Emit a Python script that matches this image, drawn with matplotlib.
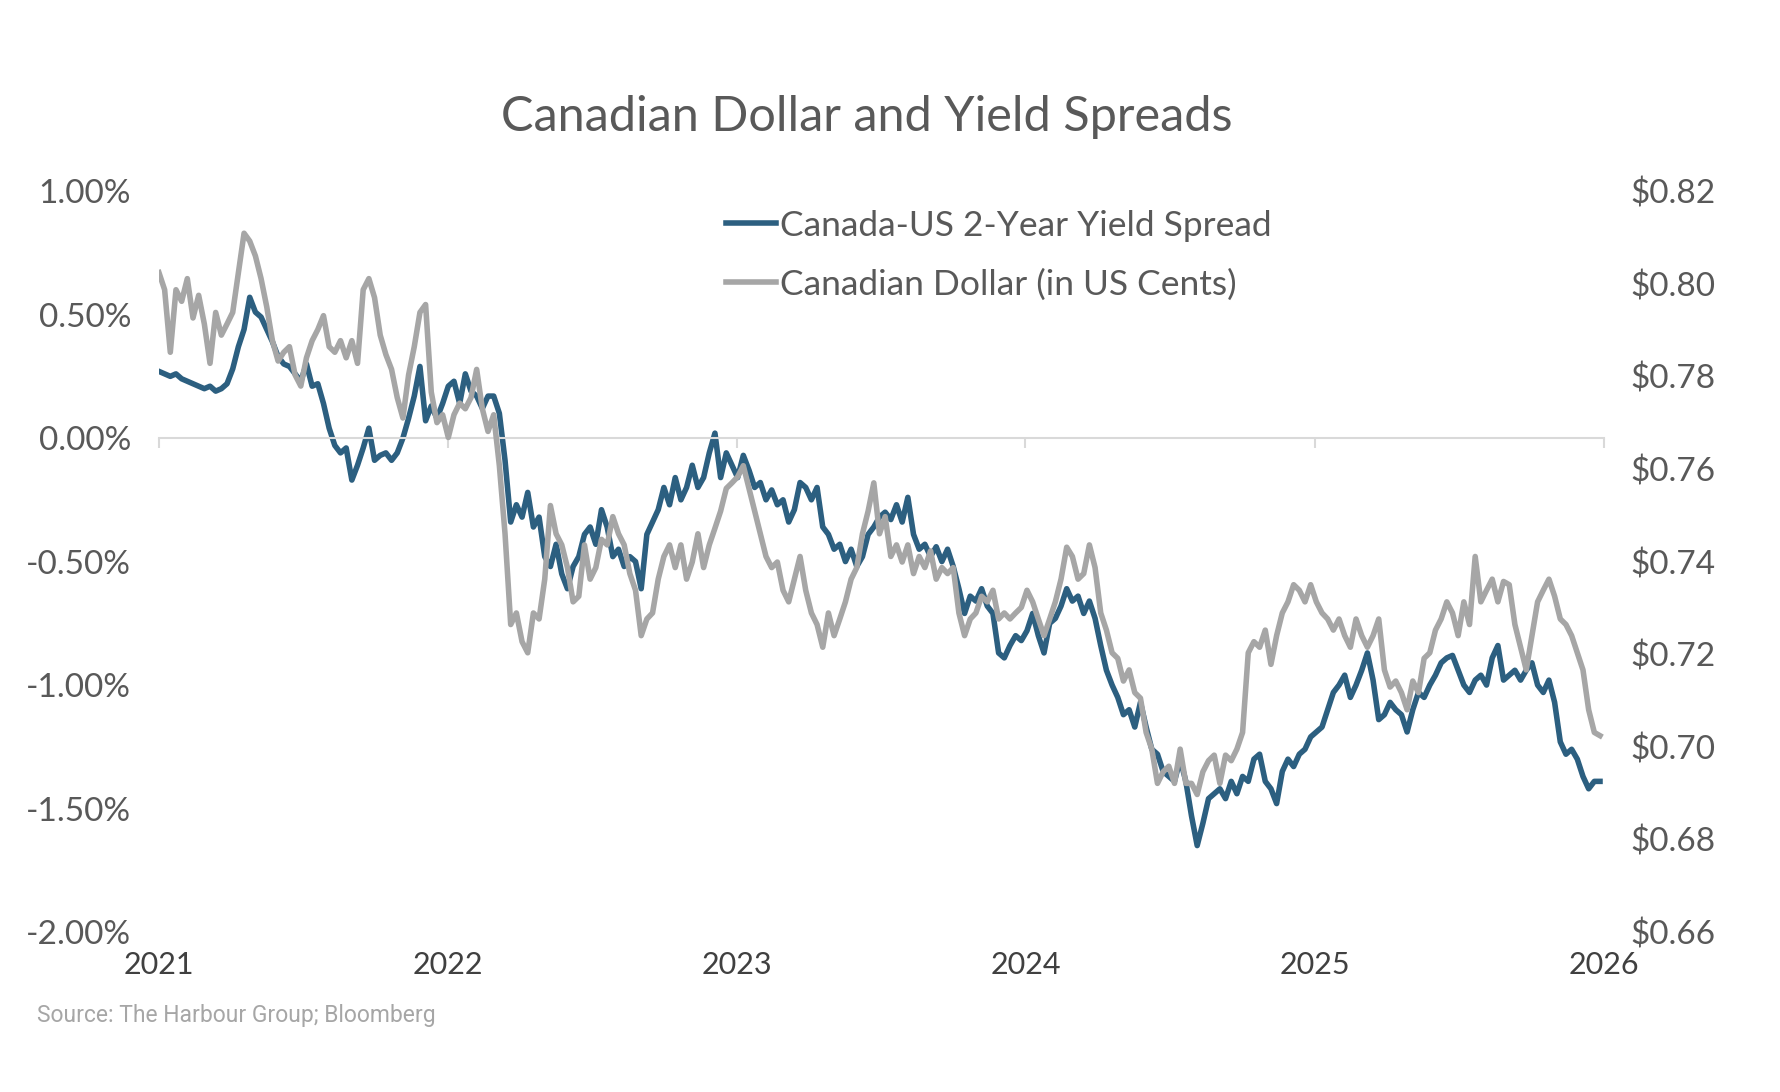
import pandas as pd
import matplotlib.pyplot as plt
from matplotlib.ticker import FuncFormatter, MultipleLocator


# Canada-US 2-year yield spread (%), roughly weekly readings
spread = [
    0.27, 0.26, 0.25, 0.26, 0.24, 0.23, 0.22, 0.21, 0.20, 0.21, 0.19, 0.20, 0.22, 0.28, 0.37, 0.44,
    0.57, 0.51, 0.49, 0.44, 0.39, 0.33, 0.30, 0.29, 0.26, 0.23, 0.30, 0.21, 0.22, 0.14, 0.04, -0.03,
    -0.06, -0.04, -0.17, -0.11, -0.04, 0.04, -0.09, -0.07, -0.06, -0.09, -0.06, 0.00, 0.08, 0.17, 0.29, 0.07,
    0.13, 0.08, 0.14, 0.21,
    # 2022
    0.23, 0.14, 0.26, 0.19, 0.17, 0.12, 0.17, 0.17, 0.10, -0.09, -0.34, -0.27, -0.32, -0.22, -0.36, -0.32,
    -0.48, -0.52, -0.43, -0.55, -0.61, -0.52, -0.48, -0.39, -0.36, -0.43, -0.29, -0.36, -0.48, -0.45, -0.52, -0.48,
    -0.50, -0.61, -0.39, -0.34, -0.29, -0.20, -0.27, -0.16, -0.25, -0.20, -0.11, -0.20, -0.16, -0.06, 0.02, -0.16,
    -0.06, -0.11, -0.16,
    # 2023
    -0.07, -0.13, -0.20, -0.18, -0.25, -0.21, -0.27, -0.25, -0.34, -0.29, -0.18, -0.20, -0.25, -0.20, -0.36, -0.39,
    -0.45, -0.43, -0.50, -0.45, -0.52, -0.48, -0.39, -0.36, -0.32, -0.30, -0.33, -0.27, -0.34, -0.24, -0.39, -0.45,
    -0.43, -0.48, -0.44, -0.50, -0.45, -0.52, -0.61, -0.71, -0.64, -0.66, -0.61, -0.68, -0.71, -0.87, -0.89, -0.84,
    -0.80, -0.82, -0.78,
    # 2024
    -0.71, -0.80, -0.87, -0.75, -0.73, -0.68, -0.61, -0.66, -0.64, -0.71, -0.66, -0.73, -0.84, -0.94, -1.00, -1.05,
    -1.12, -1.10, -1.17, -1.07, -1.17, -1.26, -1.28, -1.35, -1.37, -1.39, -1.30, -1.39, -1.53, -1.65, -1.56, -1.46,
    -1.44, -1.42, -1.46, -1.39, -1.44, -1.37, -1.39, -1.30, -1.28, -1.39, -1.42, -1.48, -1.35, -1.30, -1.33, -1.28,
    -1.26, -1.21, -1.19,
    # 2025
    -1.17, -1.10, -1.03, -1.00, -0.96, -1.05, -1.00, -0.94, -0.87, -0.98, -1.14, -1.12, -1.07, -1.10, -1.12, -1.19,
    -1.10, -1.03, -1.05, -1.00, -0.96, -0.91, -0.89, -0.88, -0.94, -1.00, -1.03, -0.98, -0.96, -1.00, -0.89, -0.84,
    -0.98, -0.96, -0.94, -0.98, -0.94, -0.91, -1.00, -1.03, -0.98, -1.07, -1.23, -1.28, -1.26, -1.30, -1.37, -1.42,
    -1.39, -1.39,
]

# Canadian dollar in US$, same dates
cad = [
    0.8024, 0.7987, 0.7852, 0.7987, 0.7962, 0.8011, 0.7926, 0.7975, 0.7913, 0.7828, 0.7938, 0.7889, 0.7913, 0.7938,
    0.8024, 0.8109, 0.8092, 0.8060, 0.8011, 0.7950, 0.7877, 0.7833, 0.7852, 0.7864, 0.7803, 0.7779, 0.7840, 0.7877,
    0.7901, 0.7931, 0.7864, 0.7852, 0.7877, 0.7840, 0.7877, 0.7828, 0.7987, 0.8011, 0.7970, 0.7889, 0.7847, 0.7815,
    0.7754, 0.7710, 0.7803, 0.7864, 0.7938, 0.7955, 0.7766, 0.7700, 0.7717, 0.7668,
    # 2022
    0.7717, 0.7742, 0.7730, 0.7754, 0.7815, 0.7730, 0.7681, 0.7717, 0.7607, 0.7460, 0.7264, 0.7289, 0.7227, 0.7203,
    0.7289, 0.7276, 0.7362, 0.7521, 0.7460, 0.7436, 0.7387, 0.7313, 0.7325, 0.7436, 0.7362, 0.7387, 0.7448, 0.7436,
    0.7497, 0.7460, 0.7436, 0.7374, 0.7338, 0.7240, 0.7276, 0.7289, 0.7362, 0.7411, 0.7436, 0.7387, 0.7436, 0.7362,
    0.7399, 0.7460, 0.7387, 0.7436, 0.7472, 0.7509, 0.7558, 0.7570, 0.7583,
    # 2023
    0.7607, 0.7558, 0.7509, 0.7460, 0.7411, 0.7387, 0.7399, 0.7338, 0.7313, 0.7362, 0.7411, 0.7338, 0.7289, 0.7264,
    0.7215, 0.7289, 0.7240, 0.7276, 0.7313, 0.7362, 0.7387, 0.7460, 0.7509, 0.7570, 0.7460, 0.7497, 0.7411, 0.7436,
    0.7399, 0.7436, 0.7374, 0.7411, 0.7387, 0.7423, 0.7362, 0.7387, 0.7374, 0.7387, 0.7289, 0.7240, 0.7276, 0.7289,
    0.7325, 0.7313, 0.7338, 0.7276, 0.7289, 0.7276, 0.7289, 0.7301, 0.7338,
    # 2024
    0.7313, 0.7276, 0.7240, 0.7276, 0.7313, 0.7362, 0.7431, 0.7411, 0.7362, 0.7374, 0.7436, 0.7387, 0.7289, 0.7252,
    0.7203, 0.7191, 0.7142, 0.7166, 0.7117, 0.7105, 0.7031, 0.6995, 0.6921, 0.6946, 0.6958, 0.6921, 0.6995, 0.6921,
    0.6921, 0.6897, 0.6946, 0.6970, 0.6982, 0.6921, 0.6982, 0.6970, 0.6995, 0.7031, 0.7203, 0.7227, 0.7215, 0.7252,
    0.7178, 0.7240, 0.7289, 0.7313, 0.7350, 0.7338, 0.7313, 0.7350, 0.7313,
    # 2025
    0.7289, 0.7276, 0.7252, 0.7276, 0.7240, 0.7215, 0.7276, 0.7240, 0.7215, 0.7240, 0.7276, 0.7166, 0.7129, 0.7142,
    0.7117, 0.7080, 0.7142, 0.7117, 0.7191, 0.7203, 0.7252, 0.7276, 0.7313, 0.7289, 0.7240, 0.7313, 0.7264, 0.7411,
    0.7313, 0.7338, 0.7362, 0.7313, 0.7357, 0.7350, 0.7264, 0.7215, 0.7166, 0.7240, 0.7313, 0.7338, 0.7362, 0.7325,
    0.7276, 0.7264, 0.7240, 0.7203, 0.7166, 0.7080, 0.7031, 0.7024,
]

start_date = "2021-01-01"
end_date = "2025-12-27"
year_ticks = ["2021", "2022", "2023", "2024", "2025", "2026"]

spread_dates = pd.date_range(start_date, end_date, periods=len(spread))
cad_dates = pd.date_range(start_date, end_date, periods=len(cad))

BLUE = "#2c5f80"
GREY = "#a6a6a6"
TEXT = "#595959"

plt.rcParams["font.family"] = ["Lato", "DejaVu Sans"]
plt.rcParams["axes.unicode_minus"] = False

fig = plt.figure(figsize=(17.8, 10.92), dpi=100)
ax = fig.add_axes([0.0893, 0.1465, 0.8118, 0.6785])
ax2 = ax.twinx()

ax.plot(spread_dates, spread, color=BLUE, lw=4.0, label="Canada-US 2-Year Yield Spread",
        solid_joinstyle="round")
ax2.plot(cad_dates, cad, color=GREY, lw=4.0, label="Canadian Dollar (in US Cents)",
         solid_joinstyle="round")

ax.set_ylim(-2.0, 1.0)
ax2.set_ylim(0.66, 0.82)
ax.yaxis.set_major_locator(MultipleLocator(0.5))
ax2.yaxis.set_major_locator(MultipleLocator(0.02))
ax.yaxis.set_major_formatter(FuncFormatter(lambda v, p: f"{v:.2f}%"))
ax2.yaxis.set_major_formatter(FuncFormatter(lambda v, p: f"${v:.2f}"))

x0 = pd.Timestamp(year_ticks[0] + "-01-01")
x1 = pd.Timestamp(year_ticks[-1] + "-01-01")
ax.set_xlim(x0, x1)
tick_dates = [pd.Timestamp(y + "-01-01") for y in year_ticks]

for a in (ax, ax2):
    for s in a.spines.values():
        s.set_visible(False)

# zero line acts as the x axis, ticks hang from it
ax.spines["bottom"].set_visible(True)
ax.spines["bottom"].set_position(("data", 0))
ax.spines["bottom"].set_color("#d9d9d9")
ax.spines["bottom"].set_linewidth(1.5)
ax.set_xticks(tick_dates)
ax.tick_params(axis="x", length=7, width=1.5, color="#d9d9d9", labelbottom=False)

# year labels below the plot
sec = ax.secondary_xaxis("bottom")
sec.set_xticks(tick_dates)
sec.set_xticklabels(year_ticks)
sec.spines["bottom"].set_visible(False)
sec.tick_params(axis="x", length=0, pad=14, labelsize=22, labelcolor="#404040")

ax.tick_params(axis="y", length=0, pad=20, labelsize=24, labelcolor=TEXT)
ax2.tick_params(axis="y", length=0, pad=19, labelsize=24, labelcolor=TEXT)

h1, l1 = ax.get_legend_handles_labels()
h2, l2 = ax2.get_legend_handles_labels()
leg = ax2.legend(h1 + h2, l1 + l2, loc="upper left", bbox_to_anchor=(0.3925, 0.975),
                 frameon=False, fontsize=25.5, handlelength=1.4, handletextpad=0.13,
                 labelspacing=0.75, borderaxespad=0, borderpad=0)
for t in leg.get_texts():
    t.set_color(TEXT)

fig.text(0.487, 0.893, "Canadian Dollar and Yield Spreads", ha="center", va="center",
         fontsize=35, color=TEXT)
fig.text(0.021, 0.07, "Source: The Harbour Group; Bloomberg", ha="left", va="center",
         fontsize=16.5, color=GREY, family=["Roboto", "DejaVu Sans"])

fig.savefig("out.png", dpi=100)
plt.close(fig)
